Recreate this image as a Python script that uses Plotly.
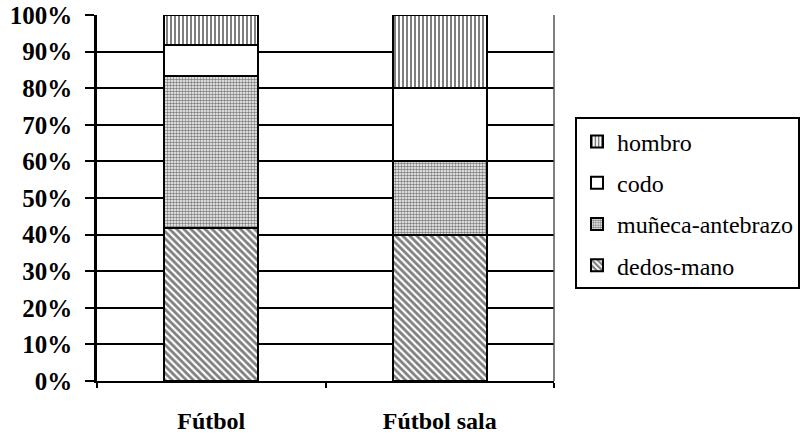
import plotly.graph_objects as go

categories = ["Fútbol", "Fútbol sala"]
dedos_mano = [41.67, 40.0]
muneca_antebrazo = [41.67, 20.0]
codo = [8.33, 20.0]
hombro = [8.33, 20.0]
y_ticks = [0, 10, 20, 30, 40, 50, 60, 70, 80, 90, 100]
y_tick_labels = [f"{v}%" for v in y_ticks]

series = [
    ("dedos-mano", dedos_mano, dict(shape="\\", size=5, solidity=0.55, fgcolor="black", bgcolor="white"), 4),
    ("muñeca-antebrazo", muneca_antebrazo, dict(shape=".", size=3, solidity=0.55, fgcolor="black", bgcolor="white"), 3),
    ("codo", codo, dict(shape="", bgcolor="white"), 2),
    ("hombro", hombro, dict(shape="|", size=4, solidity=0.5, fgcolor="black", bgcolor="white"), 1),
]

fig = go.Figure()
for name, vals, pat, rank in series:
    fig.add_trace(go.Bar(
        x=categories, y=vals, name=name, legendgroup=name, legendrank=rank,
        width=0.41,
        marker=dict(color="white", pattern=pat, line=dict(color="black", width=2)),
    ))

serif = "Times New Roman, Liberation Serif, serif"
fig.update_layout(
    width=808, height=441,
    margin=dict(l=97, r=254, t=15, b=60, autoexpand=False),
    barmode="stack",
    plot_bgcolor="white", paper_bgcolor="white",
    font=dict(family=serif, size=17, color="black"),
    legend=dict(
        x=1.046, y=0.72, xanchor="left", yanchor="top",
        traceorder="grouped", tracegroupgap=7,
        bordercolor="black", borderwidth=2,
        font=dict(family=serif, size=24, color="black"),
        itemwidth=30,
    ),
    showlegend=True,
)
fig.update_yaxes(
    range=[0, 100], tickvals=y_ticks, ticktext=y_tick_labels,
    showgrid=True, gridcolor="black", gridwidth=2,
    showline=True, linecolor="black", linewidth=2.5,
    ticks="outside", ticklen=9, tickwidth=2, tickcolor="black",
    tickfont=dict(family=serif, size=25, color="black", weight="bold"),
    ticklabelstandoff=8, zeroline=False, automargin=False,
)
fig.update_xaxes(
    showline=True, linecolor="black", linewidth=2,
    ticks="outside", tickson="boundaries", ticklen=5, tickwidth=2, tickcolor="black",
    tickfont=dict(family=serif, size=24, color="black", weight="bold"),
    ticklabelstandoff=17, automargin=False,
)
fig.add_shape(type="line", xref="paper", yref="paper", x0=1, x1=1, y0=0, y1=1,
              line=dict(color="#555", width=1.5))

fig.write_html("out.html", config={"displayModeBar": False},
               post_script="document.body.style.margin='0px';")
